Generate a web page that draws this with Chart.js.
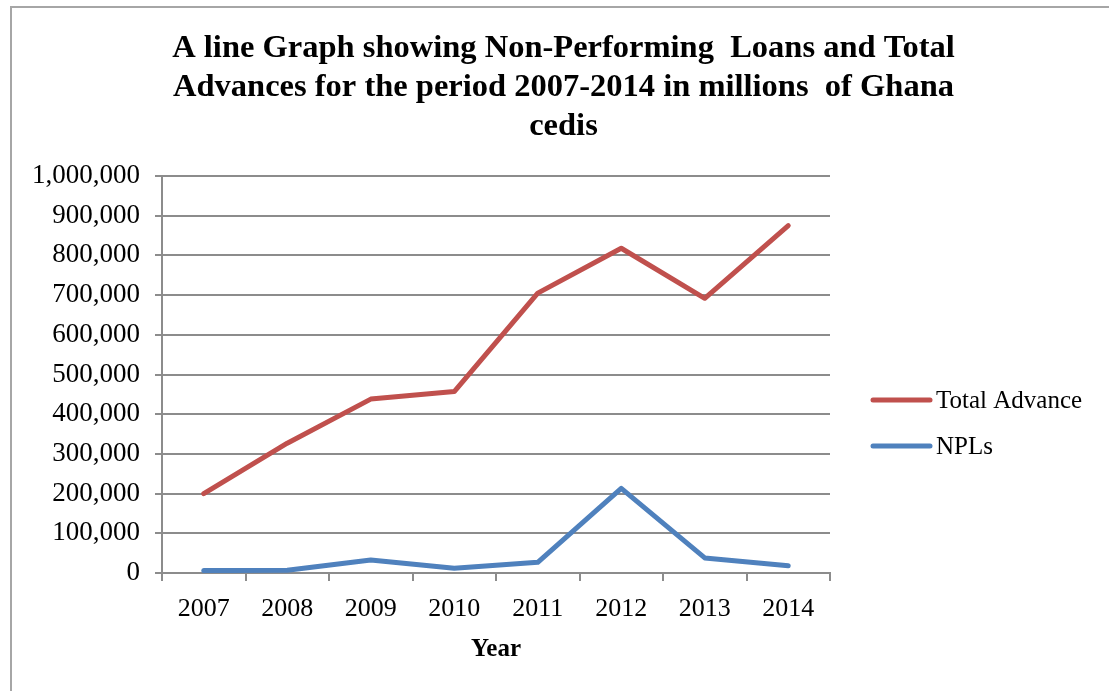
<!DOCTYPE html>
<html>
<head>
<meta charset="utf-8">
<script src="https://cdn.jsdelivr.net/npm/chart.js@4.4.1/dist/chart.umd.min.js"></script>
<style>
  html, body { margin: 0; padding: 0; background: #fff; }
  #wrap { position: relative; width: 1109px; height: 691px; }
  #frame { position: absolute; left: 10px; top: 6px; right: -4px; bottom: -4px; border-left: 2px solid #a6a6a6; border-top: 2px solid #a6a6a6; pointer-events: none; }
  canvas { position: absolute; left: 0; top: 0; }
</style>
</head>
<body>
<div id="wrap">
  <canvas id="c" width="1109" height="691"></canvas>
  <div id="frame"></div>
</div>
<script>
const titleLines = [
  "A line Graph showing Non-Performing  Loans and Total",
  "Advances for the period 2007-2014 in millions  of Ghana",
  "cedis"
];
const years = ["2007", "2008", "2009", "2010", "2011", "2012", "2013", "2014"];
const totalAdvance = [200000, 327000, 438000, 457000, 705000, 818000, 692000, 875000];
const npls = [6000, 7000, 33000, 12000, 27000, 213000, 38000, 18000];
const seriesNames = ["Total Advance", "NPLs"];
const xTitle = "Year";

const serif = "'Liberation Serif', 'Times New Roman', serif";

const titlePlugin = {
  id: 'centeredTitle',
  afterDraw(chart) {
    const ctx = chart.ctx;
    ctx.save();
    ctx.fillStyle = '#000';
    ctx.font = "bold 32.5px " + serif;
    ctx.textAlign = 'center';
    ctx.textBaseline = 'middle';
    const cx = chart.width / 2 + 9;
    titleLines.forEach((t, i) => ctx.fillText(t, cx, 49 + i * 39));
    ctx.restore();
  }
};

const legendPlugin = {
  id: 'sideLegend',
  afterDraw(chart) {
    const ctx = chart.ctx;
    const ca = chart.chartArea;
    const x0 = ca.right + 43, x1 = ca.right + 100, tx = ca.right + 106;
    const ys = [400, 446];
    ctx.save();
    chart.data.datasets.forEach((ds, i) => {
      ctx.strokeStyle = ds.borderColor;
      ctx.lineWidth = 5;
      ctx.lineCap = 'round';
      ctx.beginPath();
      ctx.moveTo(x0, ys[i]);
      ctx.lineTo(x1, ys[i]);
      ctx.stroke();
      ctx.fillStyle = '#000';
      ctx.font = "25px " + serif;
      ctx.textBaseline = 'middle';
      ctx.textAlign = 'left';
      ctx.fillText(ds.label, tx, ys[i] + 1);
    });
    ctx.restore();
  }
};

new Chart(document.getElementById('c'), {
  type: 'line',
  data: {
    labels: years,
    datasets: [
      { label: seriesNames[0], data: totalAdvance, borderColor: '#C0504D', backgroundColor: '#C0504D', borderWidth: 5, pointRadius: 0, tension: 0, borderCapStyle: 'round', borderJoinStyle: 'round' },
      { label: seriesNames[1], data: npls, borderColor: '#4F81BD', backgroundColor: '#4F81BD', borderWidth: 5, pointRadius: 0, tension: 0, borderCapStyle: 'round', borderJoinStyle: 'round' }
    ]
  },
  options: {
    responsive: false,
    animation: false,
    devicePixelRatio: 1,
    layout: { padding: { left: 0, right: 279, top: 176, bottom: 0 } },
    plugins: {
      legend: { display: false },
      tooltip: { enabled: false },
      title: { display: false }
    },
    scales: {
      x: {
        offset: true,
        grid: { display: true, drawOnChartArea: false, drawTicks: true, tickLength: 8, offset: true, color: '#8c8c8c', lineWidth: 2 },
        border: { display: true, color: '#8c8c8c', width: 2 },
        ticks: { color: '#000', font: { family: serif, size: 26 }, padding: 13, maxRotation: 0 },
        title: { display: true, text: xTitle, color: '#000', font: { family: serif, size: 25, weight: 'bold' }, padding: { top: 0, bottom: 26 } },
        afterFit(scale) { scale.height = 691 - 573; }
      },
      y: {
        min: 0, max: 1000000,
        ticks: { stepSize: 100000, color: '#000', font: { family: serif, size: 27 }, padding: 15,
          callback: v => v.toLocaleString('en-US') },
        grid: { color: '#8c8c8c', lineWidth: 2, drawTicks: true, tickLength: 7 },
        border: { display: true, color: '#8c8c8c', width: 2 },
        afterFit(scale) { scale.width = 162; }
      }
    }
  },
  plugins: [titlePlugin, legendPlugin]
});
</script>
</body>
</html>
